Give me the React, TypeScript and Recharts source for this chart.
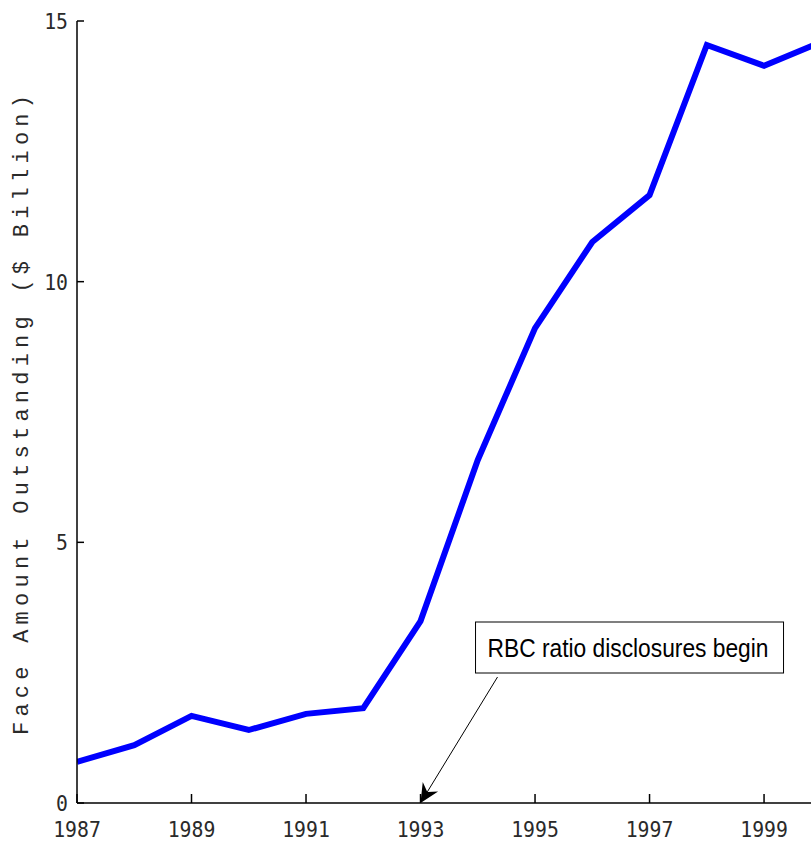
import React from 'react';
import { LineChart, Line, XAxis, YAxis, ReferenceDot } from 'recharts';

const years = [1987, 1988, 1989, 1990, 1991, 1992, 1993, 1994, 1995, 1996, 1997, 1998, 1999, 2000];
const faceAmount = [0.79, 1.11, 1.67, 1.4, 1.71, 1.82, 3.49, 6.58, 9.11, 10.76, 11.66, 14.54, 14.14, 14.6];
const xTicks = [1987, 1989, 1991, 1993, 1995, 1997, 1999];
const yTicks = [0, 5, 10, 15];
const yTitle = 'Face Amount Outstanding ($ Billion)';
const annotationText = 'RBC ratio disclosures begin';
const annotationYear = 1993;

const data = years.map((year, i) => ({ year, value: faceAmount[i] }));

const YTick = ({ x, y, payload }: any) => (
  <g>
    <line x1={x} y1={y} x2={x + 7} y2={y} stroke="#000" strokeWidth={1.5} />
    <text
      x={x - 9}
      y={y + 8}
      textAnchor="end"
      fontFamily="DejaVu Sans Mono"
      fontSize={22}
      fill="#2a2a2a"
      transform={`translate(${x - 9} ${y}) scale(0.9 1) translate(${-(x - 9)} ${-y})`}
    >
      {payload.value}
    </text>
  </g>
);

const XTick = ({ x, y, payload }: any) => (
  <g>
    <line x1={x} y1={y} x2={x} y2={y - 9} stroke="#000" strokeWidth={1.5} />
    <text
      x={x}
      y={y + 34}
      textAnchor="middle"
      fontFamily="DejaVu Sans Mono"
      fontSize={22}
      fill="#2a2a2a"
      transform={`translate(${x} 0) scale(0.9 1) translate(${-x} 0)`}
    >
      {payload.value}
    </text>
  </g>
);

const YTitle = () => (
  <text
    x={0}
    y={0}
    transform="translate(28 415) rotate(-90)"
    textAnchor="middle"
    fontFamily="Liberation Mono"
    fontSize={22}
    textLength={640}
    lengthAdjust="spacing"
    fill="#2a2a2a"
  >
    {yTitle}
  </text>
);

// arrow from the text box down to the x axis at 1993
const Annotation = ({ cx, cy }: any) => {
  if (cx == null || cy == null) return null;
  const sx = cx + 77;
  const sy = cy - 126;
  const dx = cx - sx;
  const dy = cy - sy;
  const len = Math.sqrt(dx * dx + dy * dy);
  const ux = dx / len;
  const uy = dy / len;
  const head = 19;
  const half = 9;
  const bx = cx - ux * head;
  const by = cy - uy * head;
  const nx = cx - ux * (head - 6);
  const ny = cy - uy * (head - 6);
  return (
    <g>
      <line x1={sx} y1={sy} x2={nx} y2={ny} stroke="#000" strokeWidth={1} />
      <polygon
        points={`${cx},${cy} ${bx - uy * half},${by + ux * half} ${nx},${ny} ${bx + uy * half},${by - ux * half}`}
        fill="#000"
      />
      <rect x={cx + 55} y={cy - 181} width={308} height={51} fill="#fff" stroke="#000" strokeWidth={1} />
      <text
        x={cx + 67}
        y={cy - 146}
        fontFamily="Liberation Sans"
        fontSize={26}
        textLength={281}
        lengthAdjust="spacingAndGlyphs"
        fill="#000"
      >
        {annotationText}
      </text>
    </g>
  );
};

export default function App() {
  return (
    <div style={{ position: 'absolute', left: 0, top: 0, width: 811, height: 844, background: '#fff' }}>
      <LineChart width={811} height={844} data={data} margin={{ top: 21, right: 0, bottom: 0, left: 0 }}>
        <XAxis
          dataKey="year"
          type="number"
          domain={[1987, 1999.82]}
          allowDataOverflow
          ticks={xTicks}
          tick={<XTick />}
          tickLine={false}
          tickSize={0}
          tickMargin={0}
          height={41}
          axisLine={{ stroke: '#000', strokeWidth: 1.5 }}
        />
        <YAxis
          type="number"
          domain={[0, 15]}
          ticks={yTicks}
          tick={<YTick />}
          tickLine={false}
          tickSize={0}
          tickMargin={0}
          width={77}
          axisLine={{ stroke: '#000', strokeWidth: 1.5 }}
          label={<YTitle />}
        />
        <Line
          dataKey="value"
          stroke="#0000ff"
          strokeWidth={6}
          dot={false}
          activeDot={false}
          isAnimationActive={false}
          strokeLinejoin="miter"
        />
        <ReferenceDot x={annotationYear} y={0} ifOverflow="visible" shape={<Annotation />} />
      </LineChart>
    </div>
  );
}
